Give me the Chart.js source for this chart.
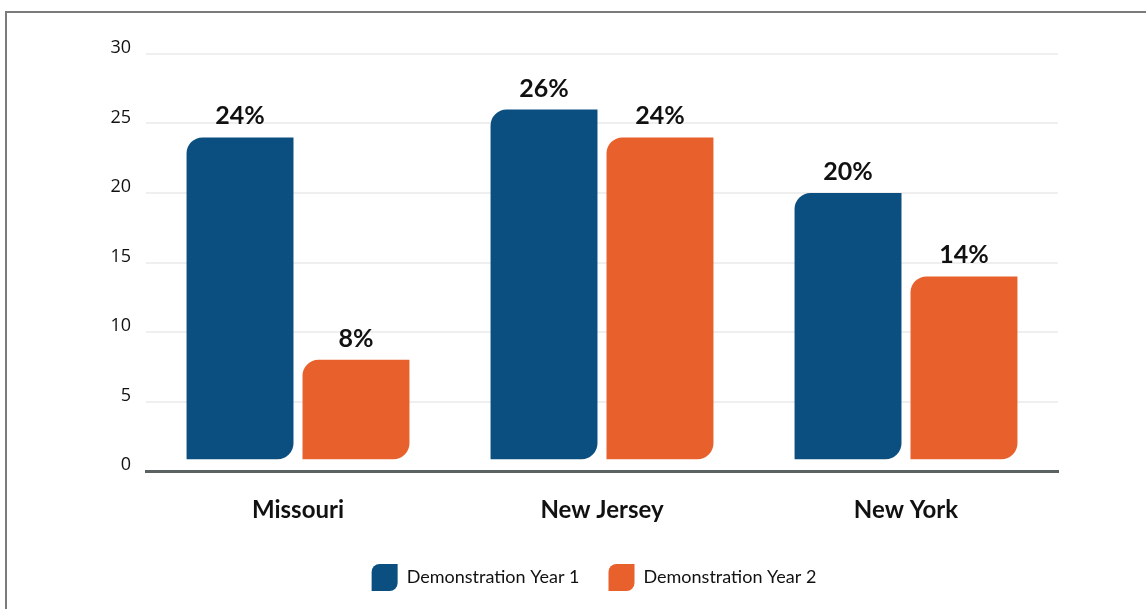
<!DOCTYPE html>
<html>
<head>
<meta charset="utf-8">
<script src="https://cdn.jsdelivr.net/npm/chart.js@4/dist/chart.umd.min.js"></script>
<style>
  html, body { margin: 0; padding: 0; background: #ffffff; overflow: hidden; }
  #frame {
    position: absolute; left: 5px; top: 11px; width: 1400px; height: 800px;
    border-left: 2px solid #7b7b7b; border-top: 2px solid #7b7b7b;
  }
  #chart { position: absolute; left: 0; top: 0; }
</style>
</head>
<body>
<div id="frame"></div>
<canvas id="chart" width="1146" height="609"></canvas>
<script>
// States compared across the two demonstration years (percent)
const categories = ['Missouri', 'New Jersey', 'New York'];
const year1Values = [24, 26, 20];
const year2Values = [8, 24, 14];
const seriesNames = ['Demonstration Year 1', 'Demonstration Year 2'];
const yTicks = [0, 5, 10, 15, 20, 25, 30];

const BLUE = '#0a4f80';
const ORANGE = '#e8602c';
const leafCorners = { topLeft: 16, bottomRight: 16, topRight: 0, bottomLeft: 0 };

// Percentage labels above each bar
const valueLabels = {
  id: 'valueLabels',
  afterDatasetsDraw(chart) {
    const ctx = chart.ctx;
    ctx.save();
    ctx.font = 'bold 25px Lato';
    ctx.fillStyle = '#111111';
    ctx.textAlign = 'center';
    ctx.textBaseline = 'middle';
    chart.data.datasets.forEach((ds, di) => {
      chart.getDatasetMeta(di).data.forEach((bar, i) => {
        ctx.fillText(ds.data[i] + '%', bar.x, bar.y - 21);
      });
    });
    ctx.restore();
  }
};

// Centre the legend row under the plot area rather than the whole canvas
const legendUnderPlot = {
  id: 'legendUnderPlot',
  afterLayout(chart) {
    if (chart.legend) {
      chart.legend.left = chart.chartArea.left - 16;
    }
  }
};

new Chart(document.getElementById('chart'), {
  type: 'bar',
  data: {
    labels: categories,
    datasets: [
      { label: seriesNames[0], data: year1Values, backgroundColor: BLUE },
      { label: seriesNames[1], data: year2Values, backgroundColor: ORANGE }
    ]
  },
  options: {
    responsive: false,
    animation: false,
    devicePixelRatio: 1,
    base: 0.85,
    borderRadius: leafCorners,
    borderSkipped: false,
    categoryPercentage: 0.763,
    barPercentage: 0.922,
    layout: { padding: { top: 54, left: 100, right: 88, bottom: 8 } },
    plugins: {
      tooltip: { enabled: false },
      legend: {
        position: 'bottom',
        labels: {
          boxWidth: 26,
          boxHeight: 27,
          padding: 29,
          color: '#111111',
          font: { family: 'Lato', size: 18 },
          useBorderRadius: true,
          generateLabels(chart) {
            const items = Chart.defaults.plugins.legend.labels.generateLabels(chart);
            items.forEach(it => {
              it.borderRadius = { topLeft: 8, bottomRight: 8, topRight: 0, bottomLeft: 0 };
              it.lineWidth = 0;
            });
            return items;
          }
        }
      }
    },
    scales: {
      x: {
        grid: { display: false, drawTicks: false },
        border: { display: true, color: '#5a6262', width: 3 },
        ticks: {
          color: '#111111',
          padding: 25,
          font: { family: 'Lato', size: 24, weight: 'bold' }
        },
        afterFit(scale) { scale.height = 64; }
      },
      y: {
        min: 0,
        max: 30,
        afterBuildTicks(scale) { scale.ticks = yTicks.map(v => ({ value: v })); },
        grid: { color: '#efefef', lineWidth: 2, drawTicks: false },
        border: { display: false },
        ticks: {
          color: '#111111',
          padding: 15,
          labelOffset: -6,
          font: { family: 'Open Sans', size: 18 }
        },
        afterFit(scale) { scale.width = 46; }
      }
    }
  },
  plugins: [valueLabels, legendUnderPlot]
});
</script>
</body>
</html>
